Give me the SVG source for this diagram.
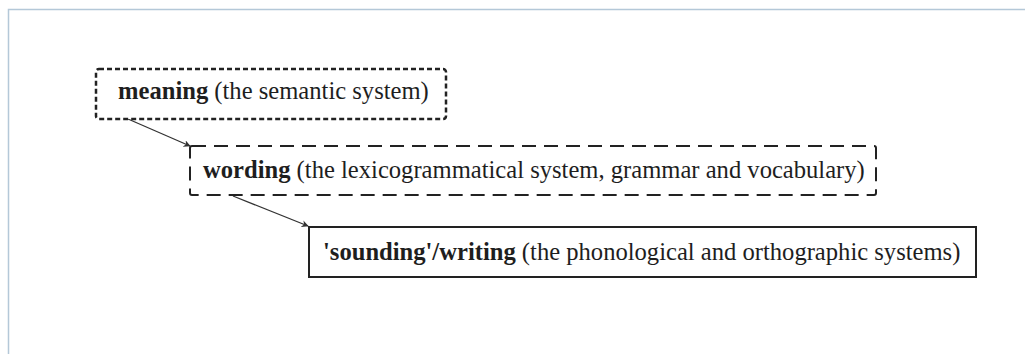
<svg xmlns="http://www.w3.org/2000/svg" width="1025" height="354" viewBox="0 0 1025 354">
  <defs>
    <style>
      .lbl { font-family: "Liberation Serif", "Times New Roman", serif; font-size: 24.6px; fill: #1e1e1e; }
      .b { font-weight: bold; }
      .box { fill: #ffffff; stroke: #222222; }
      .conn { stroke: #333333; stroke-width: 1.3; fill: none; marker-end: url(#head); }
    </style>
    <marker id="head" viewBox="0 0 10 10" refX="9" refY="5" markerWidth="7" markerHeight="7" markerUnits="userSpaceOnUse" orient="auto">
      <path d="M0,0 L10,5 L0,10 L3,5 z" fill="#333333"/>
    </marker>
  </defs>

  <!-- page frame -->
  <rect x="0" y="0" width="1025" height="354" fill="#ffffff"/>
  <path d="M8.5,354 V9.5 H1025" fill="none" stroke="#b4c8d8" stroke-width="1.5"/>

  <g id="connectors">
    <line class="conn" x1="128" y1="119" x2="190" y2="146"/>
    <line class="conn" x1="233" y1="196" x2="308" y2="226"/>
  </g>

  <g id="meaning">
    <rect class="box" x="96" y="69" width="350" height="50" rx="3" stroke-width="2.5" stroke-dasharray="5 3"/>
    <text class="lbl" x="118" y="99"><tspan class="b">meaning</tspan> (the semantic system)</text>
  </g>

  <g id="wording">
    <rect class="box" x="190" y="146" width="686" height="49" rx="2" stroke-width="2" stroke-dasharray="14 8"/>
    <text class="lbl" x="203" y="178"><tspan class="b">wording</tspan> (the lexicogrammatical system, grammar and vocabulary)</text>
  </g>

  <g id="sounding-writing">
    <rect class="box" x="309" y="227" width="667" height="50" stroke-width="2"/>
    <text class="lbl" x="323" y="260"><tspan class="b">'sounding'/writing</tspan> (the phonological and orthographic systems)</text>
  </g>
</svg>
